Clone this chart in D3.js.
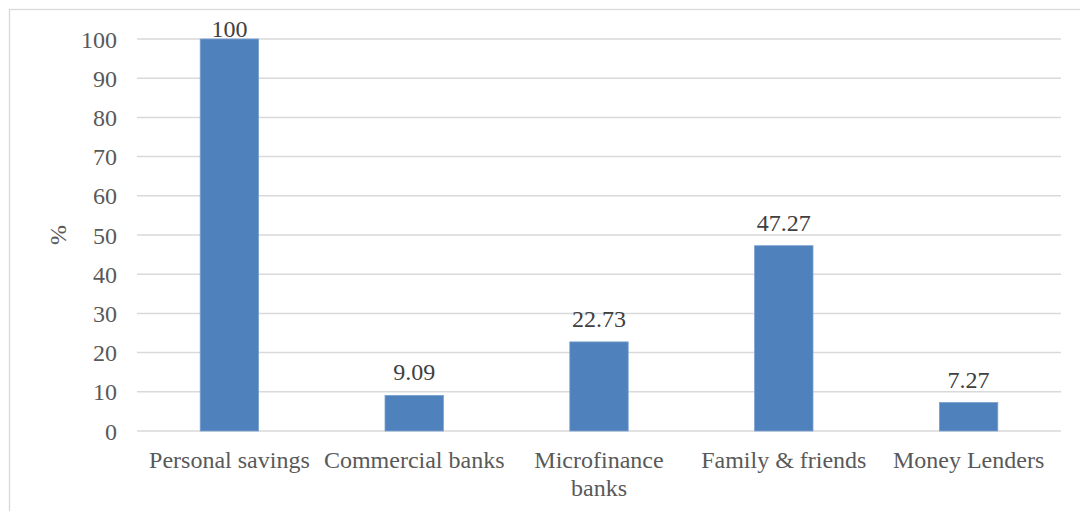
<!DOCTYPE html>
<style>
    body {
        margin: 0;
        background: #fff;
    }
    svg text {
        font-family: 'Liberation Serif', 'Times New Roman', serif;
    }
</style>
<svg width="1080" height="511"></svg>
<script src="https://d3js.org/d3.v7.min.js"></script>
<script>
    // data
    var categories = ["Personal savings", "Commercial banks", "Microfinance banks", "Family & friends", "Money Lenders"];
    var values = [100, 9.09, 22.73, 47.27, 7.27];
    var yTicks = [0, 10, 20, 30, 40, 50, 60, 70, 80, 90, 100];

    var serif = "'Liberation Serif', 'Times New Roman', serif";

    var svg = d3.select("svg"),
        margin = {top: 39, right: 19, bottom: 80, left: 137},
        width = 1080 - margin.left - margin.right,
        height = 511 - margin.top - margin.bottom,
        g = svg.append("g").attr("transform", "translate(" + margin.left + "," + margin.top + ")");

    // outer chart border
    svg.append("rect")
        .attr("x", 9.5).attr("y", 9.5)
        .attr("width", 1080).attr("height", 520)
        .attr("fill", "none")
        .attr("stroke", "#d9d9d9")
        .attr("stroke-width", 1.3);

    var x = d3.scaleBand()
        .domain(categories)
        .range([0, width])
        .paddingInner(0.684)
        .paddingOuter(0.342);

    var y = d3.scaleLinear()
        .domain([0, 100])
        .range([height, 0]);

    // gridlines
    g.append("g")
        .selectAll("line")
        .data(yTicks)
        .enter().append("line")
        .attr("x1", 0)
        .attr("x2", width)
        .attr("y1", function (d) { return y(d); })
        .attr("y2", function (d) { return y(d); })
        .attr("stroke", "#d9d9d9")
        .attr("stroke-width", 1.5);

    // y axis labels
    var yAxis = g.append("g")
        .call(d3.axisLeft(y).tickValues(yTicks).tickSize(0).tickPadding(20));
    yAxis.select(".domain").remove();
    yAxis.selectAll("text")
        .attr("fill", "#595959")
        .attr("dy", "0.34em")
        .style("font-size", "24px")
        .style("font-family", serif);

    // y axis title
    g.append("text")
        .attr("transform", "translate(" + (-71) + "," + (y(50)) + ") rotate(-90)")
        .attr("text-anchor", "middle")
        .attr("fill", "#595959")
        .style("font-size", "24px")
        .style("font-family", serif)
        .text("%");

    // bars
    g.selectAll(".bar")
        .data(values)
        .enter().append("rect")
        .attr("class", "bar")
        .attr("x", function (d, i) { return x(categories[i]); })
        .attr("y", function (d) { return y(d); })
        .attr("width", x.bandwidth())
        .attr("height", function (d) { return height - y(d); })
        .attr("fill", "#4f81bd")
        .attr("stroke", "#7aa0cf")
        .attr("stroke-width", 0.8);

    // value labels
    g.selectAll(".val")
        .data(values)
        .enter().append("text")
        .attr("class", "val")
        .attr("x", function (d, i) { return x(categories[i]) + x.bandwidth() / 2; })
        .attr("y", function (d) { return Math.max(y(d) - 15, -2); })
        .attr("text-anchor", "middle")
        .attr("fill", "#404040")
        .style("font-size", "24px")
        .style("font-family", serif)
        .text(function (d) { return d; });

    // category labels (wrapped)
    var labelLines = {"Microfinance banks": ["Microfinance", "banks"]};
    var cat = g.selectAll(".cat")
        .data(categories)
        .enter().append("text")
        .attr("class", "cat")
        .attr("text-anchor", "middle")
        .attr("fill", "#595959")
        .style("font-size", "24px")
        .style("font-family", serif)
        .attr("transform", function (d) {
            return "translate(" + (x(d) + x.bandwidth() / 2) + "," + (height + 37) + ")";
        });
    cat.each(function (d) {
        var lines = labelLines[d] || [d];
        var t = d3.select(this);
        lines.forEach(function (l, i) {
            t.append("tspan").attr("x", 0).attr("dy", i === 0 ? 0 : 28).text(l);
        });
    });
</script>
